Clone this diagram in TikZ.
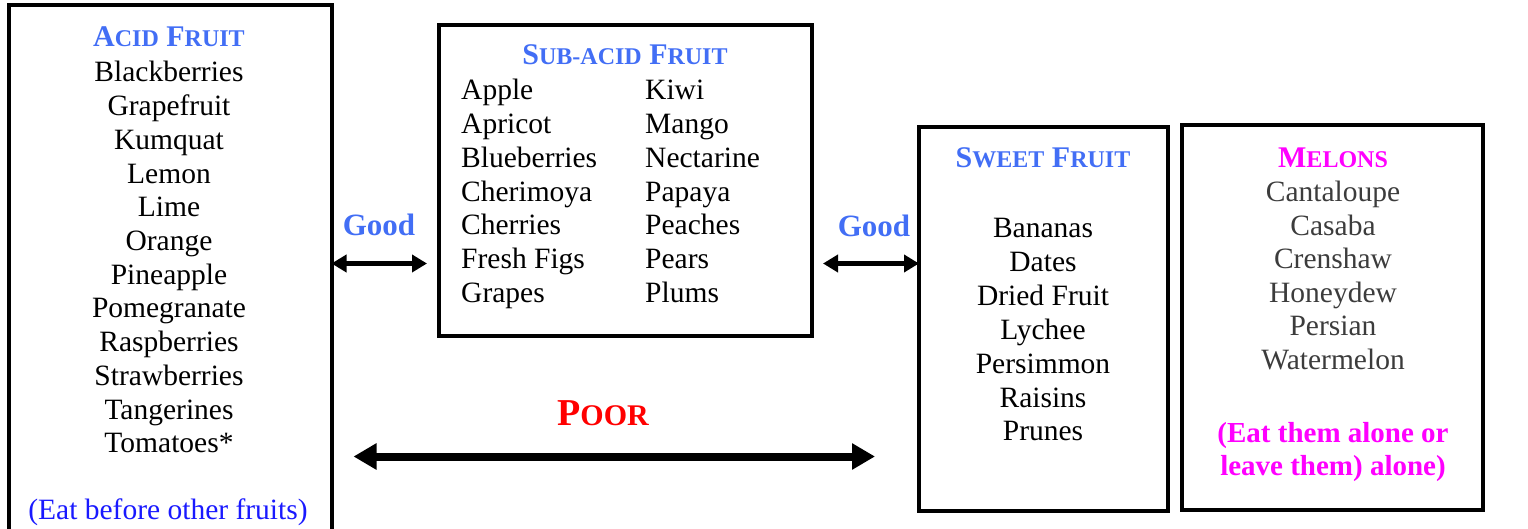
\documentclass[tikz,border=0pt]{standalone}
\usepackage{fontspec}
\setmainfont{Liberation Serif}
\usetikzlibrary{arrows.meta}

\definecolor{titleblue}{RGB}{66,110,245}
\definecolor{noteblue}{RGB}{25,25,255}
\definecolor{melonpink}{RGB}{255,0,255}
\definecolor{poorred}{RGB}{255,0,0}
\definecolor{melongray}{RGB}{60,60,60}

\newcommand{\smcap}[1]{{\fontsize{24}{24}\selectfont #1}}
\newcommand{\bigsmcap}[1]{{\fontsize{30}{30}\selectfont #1}}

\tikzset{
	fruitbox/.style={draw, line width=4pt, anchor=north west, inner sep=0pt, outer sep=0pt},
	item/.style={anchor=base, inner sep=0pt, font=\fontsize{29.5}{33.7}\selectfont},
	boxtitle/.style={anchor=base, inner sep=0pt, font=\fontsize{30}{30}\selectfont\bfseries},
	goodarrow/.style={line width=4.5pt, {Triangle[length=15pt,width=17pt]}-{Triangle[length=15pt,width=17pt]}},
	poorarrow/.style={line width=8pt, {Triangle[length=23pt,width=25pt]}-{Triangle[length=23pt,width=25pt]}},
}

\begin{document}
\begin{tikzpicture}[x=1pt, y=-1pt]
			\clip (0, 0) rectangle (1528, 529);
			
			% the four boxes
			\node[fruitbox, minimum width=323pt, minimum height=540pt] (acid) at (8.5, 5.5) {};
			\node[fruitbox, minimum width=373pt, minimum height=311pt] (subacid) at (439, 25) {};
			\node[fruitbox, minimum width=249pt, minimum height=384pt] (sweet) at (919, 127) {};
			\node[fruitbox, minimum width=301pt, minimum height=385pt] (melons) at (1182, 125) {};
			
			% acid fruit
			\node[boxtitle, titleblue] (acidT) at (169, 47) {A\smcap{CID} F\smcap{RUIT}};
			\foreach \fruit [count=\i from 0] in {Blackberries, Grapefruit, Kumquat, Lemon, Lime, Orange, Pineapple, Pomegranate, Raspberries, Strawberries, Tangerines, Tomatoes*}
				\node[item] (acid\i) at (169, 82 + 33.7*\i) {\fruit};
			\node[item, noteblue] (acidN) at (168, 519) {(Eat before other fruits)};
			
			% sub-acid fruit
			\node[boxtitle, titleblue] (subT) at (625, 65) {S\smcap{UB-ACID} F\smcap{RUIT}};
			\foreach \fruit [count=\i from 0] in {Apple, Apricot, Blueberries, Cherimoya, Cherries, Fresh Figs, Grapes}
				\node[item, anchor=base west] (subL\i) at (461, 100 + 33.7*\i) {\fruit};
			\foreach \fruit [count=\i from 0] in {Kiwi, Mango, Nectarine, Papaya, Peaches, Pears, Plums}
				\node[item, anchor=base west] (subR\i) at (645, 100 + 33.7*\i) {\fruit};
			
			% sweet fruit
			\node[boxtitle, titleblue] (sweetT) at (1043, 168) {S\smcap{WEET} F\smcap{RUIT}};
			\foreach \fruit [count=\i from 0] in {Bananas, Dates, Dried Fruit, Lychee, Persimmon, Raisins, Prunes}
				\node[item] (sweet\i) at (1043, 238 + 33.8*\i) {\fruit};
			
			% melons
			\node[boxtitle, melonpink] (melT) at (1333, 168) {M\smcap{ELONS}};
			\foreach \fruit [count=\i from 0] in {Cantaloupe, Casaba, Crenshaw, Honeydew, Persian, Watermelon}
				\node[item, melongray] (mel\i) at (1333, 202 + 33.4*\i) {\fruit};
			\node[item, melonpink, font=\fontsize{29}{33}\selectfont\bfseries] (melN1) at (1333, 442) {(Eat them alone or};
			\node[item, melonpink, font=\fontsize{29}{33}\selectfont\bfseries] (melN2) at (1333, 475) {leave them) alone)};
			
			% combinations
			\coordinate (good) at (0, 263.5);
			\coordinate (poor) at (0, 456.5);
			\draw[goodarrow, shorten >=12pt] (acid.east |- good) -- (subacid.west |- good);
			\draw[goodarrow, shorten <=11pt] (subacid.east |- good) -- (sweet.west |- good);
			\draw[poorarrow, shorten <=22pt, shorten >=44pt] (acid.east |- poor) -- (sweet.west |- poor);
			
			\node[boxtitle, titleblue, font=\fontsize{31}{31}\selectfont\bfseries] (goodL) at (379, 236) {Good};
			\node[boxtitle, titleblue, font=\fontsize{31}{31}\selectfont\bfseries] (goodR) at (874, 237) {Good};
			\node[boxtitle, poorred, font=\fontsize{38}{38}\selectfont\bfseries] (poorT) at (603, 425) {P\bigsmcap{OOR}};
		\end{tikzpicture}
\end{document}
